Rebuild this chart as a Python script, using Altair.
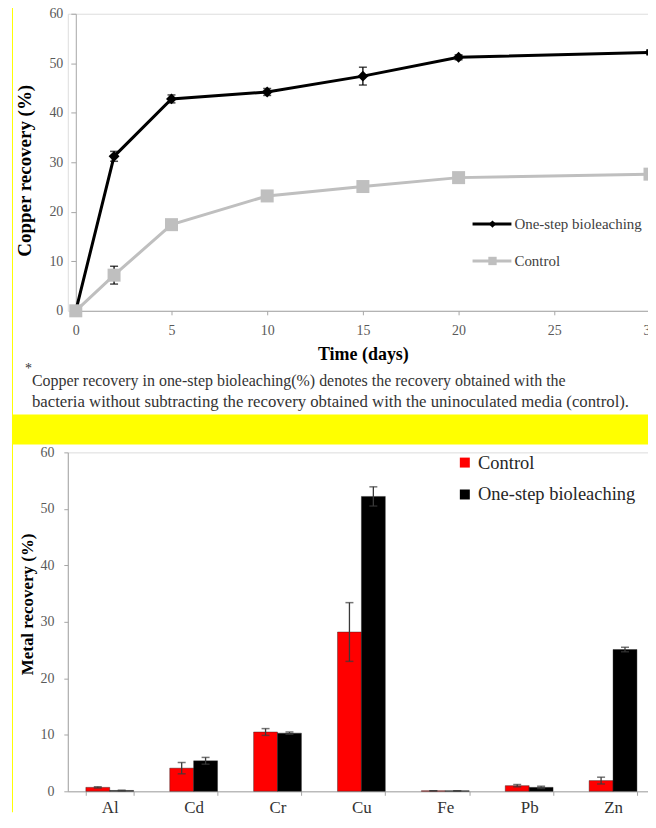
import altair as alt
import pandas as pd

# ---------------- data : top panel (copper recovery vs time) ----------------
days = [0, 2, 5, 10, 15, 20, 30]
series_names = ["One-step bioleaching", "Control"]
onestep = [0.0, 31.2, 42.8, 44.2, 47.4, 51.2, 52.2]
onestep_err = [0.0, 1.0, 0.8, 0.7, 1.8, 0.5, 0.5]
control = [0.0, 7.2, 17.4, 23.2, 25.1, 26.9, 27.6]
control_err = [0.0, 1.8, 0.4, 0.4, 0.4, 0.4, 0.4]
time_ticks = [0, 5, 10, 15, 20, 25, 30]
pct_ticks = [0, 10, 20, 30, 40, 50, 60]

# ---------------- data : bottom panel (metal recovery) ----------------
metals = ["Al", "Cd", "Cr", "Cu", "Fe", "Pb", "Zn"]
bar_series = ["Control", "One-step bioleaching"]
metal_control = [0.7, 4.1, 10.5, 28.2, 0.1, 1.0, 1.9]
metal_control_err = [0.1, 1.0, 0.6, 5.2, 0.0, 0.2, 0.6]
metal_onestep = [0.15, 5.4, 10.3, 52.2, 0.1, 0.7, 25.1]
metal_onestep_err = [0.05, 0.6, 0.2, 1.7, 0.0, 0.2, 0.4]

footnote_star = "*"
footnote_lines = [
    "Copper recovery in one-step bioleaching(%) denotes the recovery obtained with the",
    "bacteria without subtracting the recovery obtained with the uninoculated media (control).",
]

FONT = "Liberation Serif"
YELLOW = "#ffff00"

# ---------------- build tables ----------------
rows = []
for name, vals, errs in [(series_names[0], onestep, onestep_err),
                         (series_names[1], control, control_err)]:
    for d, v, e in zip(days, vals, errs):
        rows.append({"day": d, "series": name, "value": v, "lo": v - e, "hi": v + e})
top_df = pd.DataFrame(rows)

brows = []
for name, vals, errs in [(bar_series[0], metal_control, metal_control_err),
                         (bar_series[1], metal_onestep, metal_onestep_err)]:
    for m, v, e in zip(metals, vals, errs):
        brows.append({"metal": m, "group": name, "value": v, "lo": v - e, "hi": v + e})
bar_df = pd.DataFrame(brows)

one = pd.DataFrame({"a": [0]})

# ---------------- top panel ----------------
W1, H1 = 584, 298
xs = alt.Scale(domain=[0, 30], range=[8, W1])
ys = alt.Scale(domain=[0, 60])
col1 = alt.Scale(domain=series_names, range=["#000000", "#bfbfbf"])

x_axis1 = alt.Axis(values=time_ticks, title="Time (days)", titleFont=FONT, titleFontSize=18,
                   titleFontWeight="bold", titleColor="#000000", titleY=44, titleBaseline="middle",
                   labelFont=FONT, labelFontSize=14, labelColor="#595959", labelPadding=9,
                   labelFlush=False,
                   domainColor="#a6a6a6", tickColor="#a6a6a6", tickSize=4, grid=False)
y_axis1 = alt.Axis(values=pct_ticks, title="Copper recovery (%)", titleFont=FONT, titleFontSize=19,
                   titleFontWeight="bold", titleColor="#000000", titleX=-51, titleY=157,
                   titleBaseline="middle", offset=-8,
                   labelFont=FONT, labelFontSize=14, labelColor="#595959", labelPadding=8,
                   domainColor="#a6a6a6", tickColor="#a6a6a6", tickSize=5, grid=False)

base1 = alt.Chart(top_df)
lines = base1.mark_line(strokeWidth=3).encode(
    x=alt.X("day:Q", scale=xs, axis=x_axis1),
    y=alt.Y("value:Q", scale=ys, axis=y_axis1),
    color=alt.Color("series:N", scale=col1, legend=None),
)
err_rule1 = base1.mark_rule(color="#000000", strokeWidth=1.3).encode(
    x="day:Q", y="lo:Q", y2="hi:Q")
err_lo1 = base1.mark_tick(color="#000000", orient="horizontal", size=8, thickness=1.5).encode(
    x="day:Q", y="lo:Q")
err_hi1 = base1.mark_tick(color="#000000", orient="horizontal", size=8, thickness=1.5).encode(
    x="day:Q", y="hi:Q")
pts = base1.mark_point(filled=True, opacity=1).encode(
    x="day:Q", y="value:Q",
    color=alt.Color("series:N", scale=col1, legend=None),
    shape=alt.Shape("series:N", scale=alt.Scale(domain=series_names, range=["diamond", "square"]), legend=None),
    size=alt.Size("series:N", scale=alt.Scale(domain=series_names, range=[120, 170]), legend=None),
)

legend_layers = []
for i, name in enumerate(series_names):
    ly = 211 + 37 * i
    ldf = pd.DataFrame({"series": [name]})
    c = ["#000000", "#bfbfbf"][i]
    legend_layers.append(alt.Chart(ldf).mark_rule(color=c, strokeWidth=3).encode(
        x=alt.value(406), x2=alt.value(445), y=alt.value(ly)))
    legend_layers.append(alt.Chart(ldf).mark_point(filled=True, opacity=1, color=c,
                                                   shape=["diamond", "square"][i]).encode(
        x=alt.value(426), y=alt.value(ly), size=alt.value([55, 70][i])))
    legend_layers.append(alt.Chart(ldf).mark_text(align="left", baseline="middle", font=FONT,
                                                  fontSize=15, color="#404040").encode(
        x=alt.value(448), y=alt.value(ly), text="series:N"))

note_layers = [
    alt.Chart(pd.DataFrame({"t": [footnote_star]})).mark_text(
        align="left", baseline="middle", font=FONT, fontSize=14, color="#333333").encode(
        x=alt.value(-43), y=alt.value(356), text="t:N"),
]
for i, line in enumerate(footnote_lines):
    note_layers.append(alt.Chart(pd.DataFrame({"t": [line]})).mark_text(
        align="left", baseline="middle", font=FONT, fontSize=[16, 16.8][i], color="#333333").encode(
        x=alt.value(-36), y=alt.value(368 + 21 * i), text="t:N"))

band_layers = [
    alt.Chart(one).mark_rect(color=YELLOW).encode(
        x=alt.value(-56), x2=alt.value(589), y=alt.value(402), y2=alt.value(432)),
    alt.Chart(one).mark_rect(color=YELLOW).encode(
        x=alt.value(-56), x2=alt.value(-55), y=alt.value(-8), y2=alt.value(801)),
]

top = alt.layer(*band_layers, lines, err_rule1, err_lo1, err_hi1, pts,
                *legend_layers, *note_layers).properties(width=W1, height=H1)

# ---------------- bottom panel ----------------
W2, H2 = 589, 340
col2 = alt.Scale(domain=bar_series, range=["#ff0000", "#000000"])
x_axis2 = alt.Axis(title=None, labelAngle=0, tickBand="extent", labelFont=FONT, labelFontSize=17,
                   labelColor="#333333", labelPadding=4, domainColor="#a6a6a6",
                   tickColor="#a6a6a6", tickSize=4, grid=False)
y_axis2 = alt.Axis(values=pct_ticks, title="Metal recovery (%)", titleFont=FONT, titleFontSize=17,
                   titleFontWeight="bold", titleColor="#000000", titleX=-40, titleY=152,
                   titleBaseline="middle",
                   labelFont=FONT, labelFontSize=14, labelColor="#595959", labelPadding=10,
                   domainColor="#a6a6a6", tickColor="#a6a6a6", tickSize=4, grid=False)

xb = alt.X("metal:N", sort=metals, scale=alt.Scale(paddingInner=0.43, paddingOuter=0.215), axis=x_axis2)
xo = alt.XOffset("group:N", sort=bar_series, scale=alt.Scale(domain=bar_series, paddingInner=0, paddingOuter=0))
yb = alt.Y("value:Q", scale=alt.Scale(domain=[0, 60]), axis=y_axis2)

base2 = alt.Chart(bar_df)
bars = base2.mark_bar(stroke="#222222", strokeWidth=0.4).encode(
    x=xb, xOffset=xo, y=yb,
    fill=alt.Fill("group:N", scale=col2, sort=bar_series,
                  legend=alt.Legend(title=None, orient="none", legendX=389, legendY=1,
                                    symbolType="square", symbolSize=100, symbolStrokeWidth=0,
                                    labelFont=FONT, labelFontSize=18.5, labelColor="#262626",
                                    rowPadding=13, labelOffset=4, padding=0)),
)
err_rule2 = base2.mark_rule(color="#3a3a3a", strokeWidth=1.3).encode(
    x=xb, xOffset=xo, y="lo:Q", y2="hi:Q")
err_lo2 = base2.mark_tick(color="#3a3a3a", orient="horizontal", size=8, thickness=1.5).encode(
    x=xb, xOffset=xo, y="lo:Q")
err_hi2 = base2.mark_tick(color="#3a3a3a", orient="horizontal", size=8, thickness=1.5).encode(
    x=xb, xOffset=xo, y="hi:Q")

bottom = alt.layer(bars, err_rule2, err_lo2, err_hi2).properties(width=W2, height=H2)

chart = alt.vconcat(top, bottom, spacing=142, bounds="flush").resolve_scale(
    color="independent", fill="independent", shape="independent", size="independent"
).properties(
    padding={"left": 3, "top": -4.5, "right": -10, "bottom": -4},
    background="#ffffff",
).configure_view(stroke=None).configure_text(font=FONT).configure(font=FONT)

chart.save("out.html", embed_options={"renderer": "svg", "actions": False})
